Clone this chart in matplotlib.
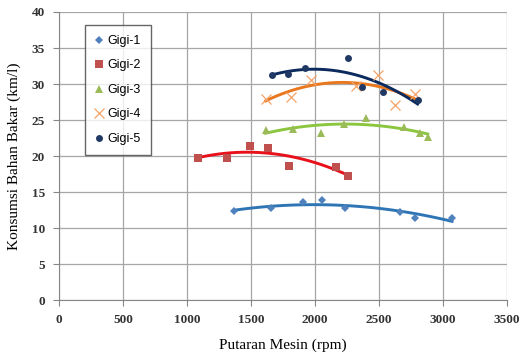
import numpy as np
import matplotlib
matplotlib.use("Agg")
import matplotlib.pyplot as plt

# Data
gigi1_x = [1368, 1658, 1907, 2059, 2239, 2666, 2784, 3072]
gigi1_y = [12.4, 12.8, 13.6, 13.9, 12.8, 12.3, 11.4, 11.4]

gigi2_x = [1085, 1316, 1496, 1630, 1797, 2165, 2262]
gigi2_y = [19.8, 19.8, 21.45, 21.2, 18.6, 18.55, 17.2]

gigi3_x = [1615, 1831, 2046, 2231, 2400, 2697, 2823, 2882]
gigi3_y = [23.6, 23.8, 23.2, 24.5, 25.3, 24.1, 23.2, 22.7]

gigi4_x = [1615, 1813, 1972, 2321, 2495, 2628, 2785]
gigi4_y = [27.9, 28.2, 30.6, 29.7, 31.2, 27.1, 28.6]

gigi5_x = [1662, 1790, 1921, 2259, 2367, 2536, 2803]
gigi5_y = [31.2, 31.4, 32.25, 33.6, 29.6, 28.9, 27.8]

labels = ["Gigi-1", "Gigi-2", "Gigi-3", "Gigi-4", "Gigi-5"]
x_ticks = [0, 500, 1000, 1500, 2000, 2500, 3000, 3500]
y_ticks = [0, 5, 10, 15, 20, 25, 30, 35, 40]

series = [(gigi1_x, gigi1_y), (gigi2_x, gigi2_y), (gigi3_x, gigi3_y),
          (gigi4_x, gigi4_y), (gigi5_x, gigi5_y)]
markers = ["D", "s", "^", "x", "o"]
msizes = [4, 5.5, 5.5, 6.5, 5]
mcolors = ["#4F81BD", "#C0504D", "#9BBB59", "#F5A36A", "#1F3864"]
lcolors = ["#2E75B6", "#E8101A", "#8CC63F", "#E8771E", "#0B2A5E"]

fig = plt.figure(figsize=(5.29, 3.63), dpi=100)
ax = fig.add_axes([0.1115, 0.1725, 0.8465, 0.7945])

for (xs, ys), m, ms, mc, lc, lab in zip(series, markers, msizes, mcolors, lcolors, labels):
    xs = np.array(xs, dtype=float)
    ys = np.array(ys, dtype=float)
    coef = np.polyfit(xs, ys, 2)
    xf = np.linspace(xs.min(), xs.max(), 100)
    ax.plot(xf, np.polyval(coef, xf), color=lc, lw=2.1, zorder=2)
    if m == "x":
        ax.plot(xs, ys, linestyle="none", marker=m, ms=ms, mew=0.9, color=mc,
                label=lab, zorder=3)
    else:
        ax.plot(xs, ys, linestyle="none", marker=m, ms=ms, mew=0, color=mc,
                label=lab, zorder=3)

ax.set_xlim(0, 3500)
ax.set_ylim(0, 40)
ax.set_xticks(x_ticks)
ax.set_yticks(y_ticks)
ax.grid(True, color="#A6A6A6", lw=0.9)
ax.set_axisbelow(True)
for s in ["top", "right"]:
    ax.spines[s].set_visible(False)
for s in ["left", "bottom"]:
    ax.spines[s].set_color("#868686")
ax.tick_params(axis="both", direction="out", length=4, color="#868686",
               labelsize=9.5, pad=6)
for lab in ax.get_xticklabels() + ax.get_yticklabels():
    lab.set_fontfamily("Liberation Serif")
    lab.set_fontweight("bold")
    lab.set_color("#333333")

ax.set_xlabel("Putaran Mesin (rpm)", family="Liberation Serif", fontsize=11, labelpad=9)
ax.set_ylabel("Konsumsi Bahan Bakar (km/l)", family="Liberation Serif", fontsize=11, labelpad=8)

leg = ax.legend(loc="upper left", bbox_to_anchor=(0.058, 0.955), frameon=True,
                fancybox=False, edgecolor="#404040", prop={"family": "Liberation Sans", "size": 9},
                handlelength=0.6, handletextpad=0.4, labelspacing=1.0, borderpad=0.8,
                borderaxespad=0)
leg.get_frame().set_linewidth(1.0)

fig.savefig("out.png", dpi=100)
